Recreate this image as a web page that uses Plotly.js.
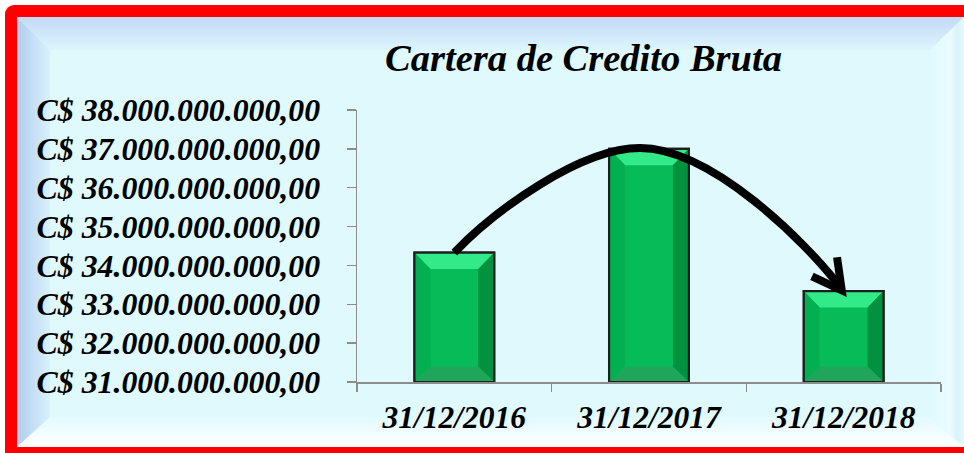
<!DOCTYPE html>
<html><head><meta charset="utf-8">
<script src="https://cdn.plot.ly/plotly-3.0.1.min.js"></script>
<style>html,body{margin:0;padding:0;background:#fff;}#chart{width:964px;height:453px;}</style>
</head><body><div id="chart"></div>
<script>
// ---- data ----
const categories = ['31/12/2016', '31/12/2017', '31/12/2018'];
const carteraBruta = [34330000000, 37000000000, 33340000000];
const yTickValues = [31e9, 32e9, 33e9, 34e9, 35e9, 36e9, 37e9, 38e9];
const yTickLabels = ['C$ 31.000.000.000,00', 'C$ 32.000.000.000,00', 'C$ 33.000.000.000,00',
  'C$ 34.000.000.000,00', 'C$ 35.000.000.000,00', 'C$ 36.000.000.000,00',
  'C$ 37.000.000.000,00', 'C$ 38.000.000.000,00'];
const chartTitle = 'Cartera de Credito Bruta';

// ---- layout constants ----
const W = 964, H = 453;
const M = {l: 357, r: 23, t: 110, b: 71};
const yMin = 31e9, yMax = 38e9;
const FONT = 'Liberation Serif, Times New Roman, serif';

// background frame as svg image
const bgSvg = `<svg xmlns="http://www.w3.org/2000/svg" width="${W}" height="${H}" viewBox="0 0 ${W} ${H}">
<defs>
<linearGradient id="gt" x1="0" y1="0" x2="0" y2="1"><stop offset="0" stop-color="#C3D8F6"/><stop offset="1" stop-color="#DCF6FD"/></linearGradient>
<linearGradient id="gl" x1="0" y1="0" x2="1" y2="0"><stop offset="0" stop-color="#B3CCEE"/><stop offset="1" stop-color="#D8F2FC"/></linearGradient>
<linearGradient id="gb" x1="0" y1="0" x2="0" y2="1"><stop offset="0" stop-color="#E2FAFE"/><stop offset="1" stop-color="#FFFFFF"/></linearGradient>
<linearGradient id="gr" x1="0" y1="0" x2="1" y2="0"><stop offset="0" stop-color="#E0FAFE"/><stop offset="0.6" stop-color="#EAFCFF"/><stop offset="0.8" stop-color="#DAF2FB"/><stop offset="1" stop-color="#E4FAFE"/></linearGradient>
</defs>
<rect x="0" y="0" width="${W}" height="${H}" fill="#ffffff"/>
<rect x="5" y="5" width="${W + 20}" height="${H + 20}" rx="9" ry="9" fill="#FF0000"/>
<rect x="17" y="17" width="${W}" height="430" fill="#DFF9FD"/>
<polygon points="17,17 ${W},17 930,50 50,50" fill="url(#gt)"/>
<polygon points="17,17 50,50 50,417 17,447" fill="url(#gl)"/>
<polygon points="17,447 50,417 930,417 ${W},447" fill="url(#gb)"/>
<polygon points="930,50 ${W},17 ${W},447 930,417" fill="url(#gr)"/>
</svg>`;
const bgSource = 'data:image/svg+xml;base64,' + btoa(bgSvg);
const plotW = W - M.l - M.r, plotH = H - M.t - M.b;

// bar geometry (category units / data units)
const barWidth = 0.41;
const hw = barWidth / 2;
const insetX = 0.082;
const insetTop = 0.42e9;
const insetBottom = 0.39e9;

const shapes = [];
function poly(pts, color) {
  const d = 'M ' + pts.map(p => p[0] + ',' + p[1]).join(' L ') + ' Z';
  shapes.push({type: 'path', xref: 'x2', yref: 'y', path: d, fillcolor: color,
    line: {width: 0}, layer: 'above'});
}
carteraBruta.forEach((v, i) => {
  const xl = i - hw, xr = i + hw, xil = xl + insetX, xir = xr - insetX;
  const yt = v - insetTop, yb = yMin + insetBottom;
  poly([[xl, v], [xr, v], [xir, yt], [xil, yt]], '#33EA88');
  poly([[xl, yMin], [xl, v], [xil, yt], [xil, yb]], '#02B052');
  poly([[xr, yMin], [xr, v], [xir, yt], [xir, yb]], '#01913F');
  poly([[xl, yMin], [xr, yMin], [xir, yb], [xil, yb]], '#1FA65B');
  shapes.push({type: 'rect', xref: 'x2', yref: 'y', x0: xl, x1: xr, y0: yMin, y1: v,
    line: {color: '#1E1E1E', width: 2.2}, fillcolor: 'rgba(0,0,0,0)', layer: 'above'});
});

// curved arrow from first bar top, over the second, down to the third
const v0 = carteraBruta[0], v1 = carteraBruta[1], v2 = carteraBruta[2];
const arrowPath = `M 0,${v0} C 0.205,${v0 + 1.07e9} 0.646,${v1 + 0.02e9} 0.954,${v1 + 0.02e9}` +
  ` C 1.314,${v1 + 0.02e9} 1.801,${v2 + 1.31e9} 1.99,${v2 + 0.05e9}`;
shapes.push({type: 'path', xref: 'x2', yref: 'y', path: arrowPath,
  line: {color: '#000000', width: 8}, layer: 'above'});
shapes.push({type: 'path', xref: 'x2', yref: 'y',
  path: `M 1.837,${v2 + 0.38e9} L 1.99,${v2 + 0.02e9} L 1.966,${v2 + 0.87e9}`,
  line: {color: '#000000', width: 8}, layer: 'above'});

const traces = [
  {type: 'bar', x: categories, y: carteraBruta, width: barWidth,
   marker: {color: '#06BB58', line: {color: '#1E1E1E', width: 2}},
   hoverinfo: 'x+y', showlegend: false},
  {type: 'scatter', x: [], y: [], xaxis: 'x2', yaxis: 'y', showlegend: false, hoverinfo: 'skip'}
];

const layout = {
  width: W, height: H,
  margin: M,
  paper_bgcolor: '#ffffff',
  plot_bgcolor: '#D9D9D9',
  showlegend: false,
  title: {text: chartTitle, font: {family: FONT, size: 38.5, color: '#000', weight: 'bold', style: 'italic'},
    x: 583.5 / W, xanchor: 'center', xref: 'container', y: 1 - 58 / H, yanchor: 'middle', yref: 'container'},
  xaxis: {type: 'category', range: [-0.5, 2.5], tickson: 'boundaries', ticks: 'outside', ticklen: 8,
    tickcolor: '#8C8C8C', tickwidth: 1.5, showline: true, linecolor: '#8C8C8C', linewidth: 1.5,
    showgrid: false, zeroline: false, fixedrange: true, ticklabelstandoff: 7,
    tickfont: {family: FONT, size: 31.5, color: '#000', weight: 'bold', style: 'italic'}},
  xaxis2: {overlaying: 'x', range: [-0.5, 2.5], visible: false, fixedrange: true},
  yaxis: {range: [yMin, yMax], tickvals: yTickValues, ticktext: yTickLabels, ticks: 'outside', ticklen: 9,
    tickcolor: '#8C8C8C', tickwidth: 1.5, showline: true, linecolor: '#8C8C8C', linewidth: 1.5,
    showgrid: false, zeroline: false, fixedrange: true, ticklabelstandoff: 20,
    tickfont: {family: FONT, size: 31.8, color: '#000', weight: 'bold', style: 'italic'}},
  shapes: shapes,
  images: [{source: bgSource, xref: 'paper', yref: 'paper',
    x: -M.l / plotW, y: 1 + M.t / plotH, sizex: W / plotW, sizey: H / plotH,
    xanchor: 'left', yanchor: 'top', sizing: 'stretch', layer: 'below'}]
};

Plotly.newPlot('chart', traces, layout, {displayModeBar: false, staticPlot: true});
</script></body></html>
